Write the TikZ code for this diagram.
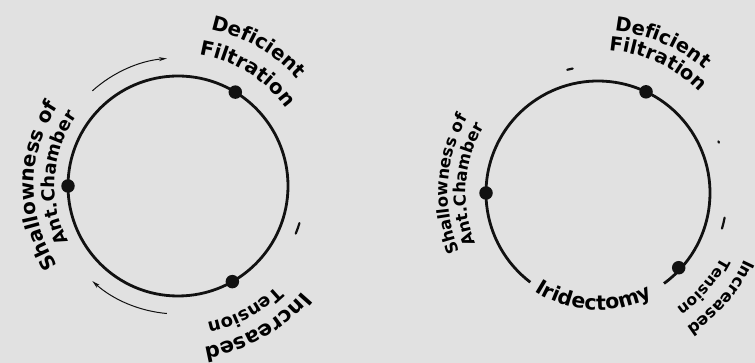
\documentclass[tikz,border=0pt]{standalone}
\usepackage{fontspec}
\newfontfamily\lblfont{DejaVu Sans}
\usetikzlibrary{decorations.text,arrows.meta,calc}
\definecolor{ink}{HTML}{111111}
\definecolor{bg}{HTML}{E1E1E1}
% outward text, written clockwise: centre, mid angle, baseline radius, font size, text
\newcommand\cwtext[5]{%
  \path[decorate, decoration={text along path, text align=center,
    text={|\lblfont\bfseries\fontsize{#4}{#4}\selectfont|#5}}]
    (#1) ++(#2+70:#3) arc[start angle=#2+70, end angle=#2-70, radius=#3];}
% text written counter-clockwise (tops inward)
\newcommand\ccwtext[5]{%
  \path[decorate, decoration={text along path, text align=center,
    text={|\lblfont\bfseries\fontsize{#4}{#4}\selectfont|#5}}]
    (#1) ++(#2-70:#3) arc[start angle=#2-70, end angle=#2+70, radius=#3];}
\begin{document}
\begin{tikzpicture}[x=1pt,y=1pt,
  ring/.style={line width=2.8pt, draw=ink},
  dotmark/.style={circle, fill=ink, inner sep=0pt, minimum size=13.5pt},
  flow/.style={line width=1pt, draw=ink, -{Stealth[length=8pt,width=4pt]}},
  tickmark/.style={line width=2.2pt, draw=ink, line cap=round}]
\fill[bg] (0,0) rectangle (755,363);
\useasboundingbox (0,0) rectangle (755,363);
% ---------- left circle ----------
\coordinate (C1) at (178,177);
\draw[ring] (C1) circle[radius=110];
\node[dotmark] (L1) at ($(C1)+(58.6:110)$) {};
\node[dotmark] (L2) at ($(C1)+(180:110)$) {};
\node[dotmark] (L3) at ($(C1)+(-60.4:110)$) {};
\draw[flow] (C1) ++(132:128) arc[start angle=132, end angle=95, radius=128];
\draw[flow] (C1) ++(-95:128) arc[start angle=-95, end angle=-132, radius=128];
\draw[tickmark] (C1) ++(-17:127) arc[start angle=-17, end angle=-22, radius=127];
\cwtext{C1}{60}{160}{20}{Deficient}
\cwtext{C1}{58.3}{133}{20}{Filtration}
\cwtext{C1}{180}{144}{20}{Shallowness of}
\cwtext{C1}{176}{123}{18}{Ant.Chamber}
\cwtext{C1}{-60.5}{163}{21}{Increased}
\cwtext{C1}{-61.8}{140}{18}{Tension}
% ---------- right circle ----------
\coordinate (C2) at (598,170);
\draw[ring] (C2) ++(-53.9:112) arc[start angle=-53.9, end angle=232.8, radius=112];
\node[dotmark] (R1) at ($(C2)+(64.6:112)$) {};
\node[dotmark] (R2) at ($(C2)+(180:112)$) {};
\node[dotmark] (R3) at ($(C2)+(-42.8:110)$) {};
\draw[tickmark] (C2) ++(104:127) arc[start angle=104, end angle=101.5, radius=127];
\draw[tickmark] (C2) ++(23.2:131) arc[start angle=23.2, end angle=22.6, radius=131];
\draw[tickmark] (C2) ++(-11:129) arc[start angle=-11, end angle=-16, radius=129];
\cwtext{C2}{66.7}{163}{19.5}{Deficient}
\cwtext{C2}{65.2}{143}{19.5}{Filtration}
\cwtext{C2}{176.5}{150}{16.5}{Shallowness of}
\cwtext{C2}{176}{132}{16.5}{Ant.Chamber}
\cwtext{C2}{-40.5}{161}{16.5}{Increased}
\cwtext{C2}{-41.5}{139}{15.5}{Tension}
\ccwtext{C2}{-92.5}{117}{20.5}{Iridectomy}
\end{tikzpicture}
\end{document}
